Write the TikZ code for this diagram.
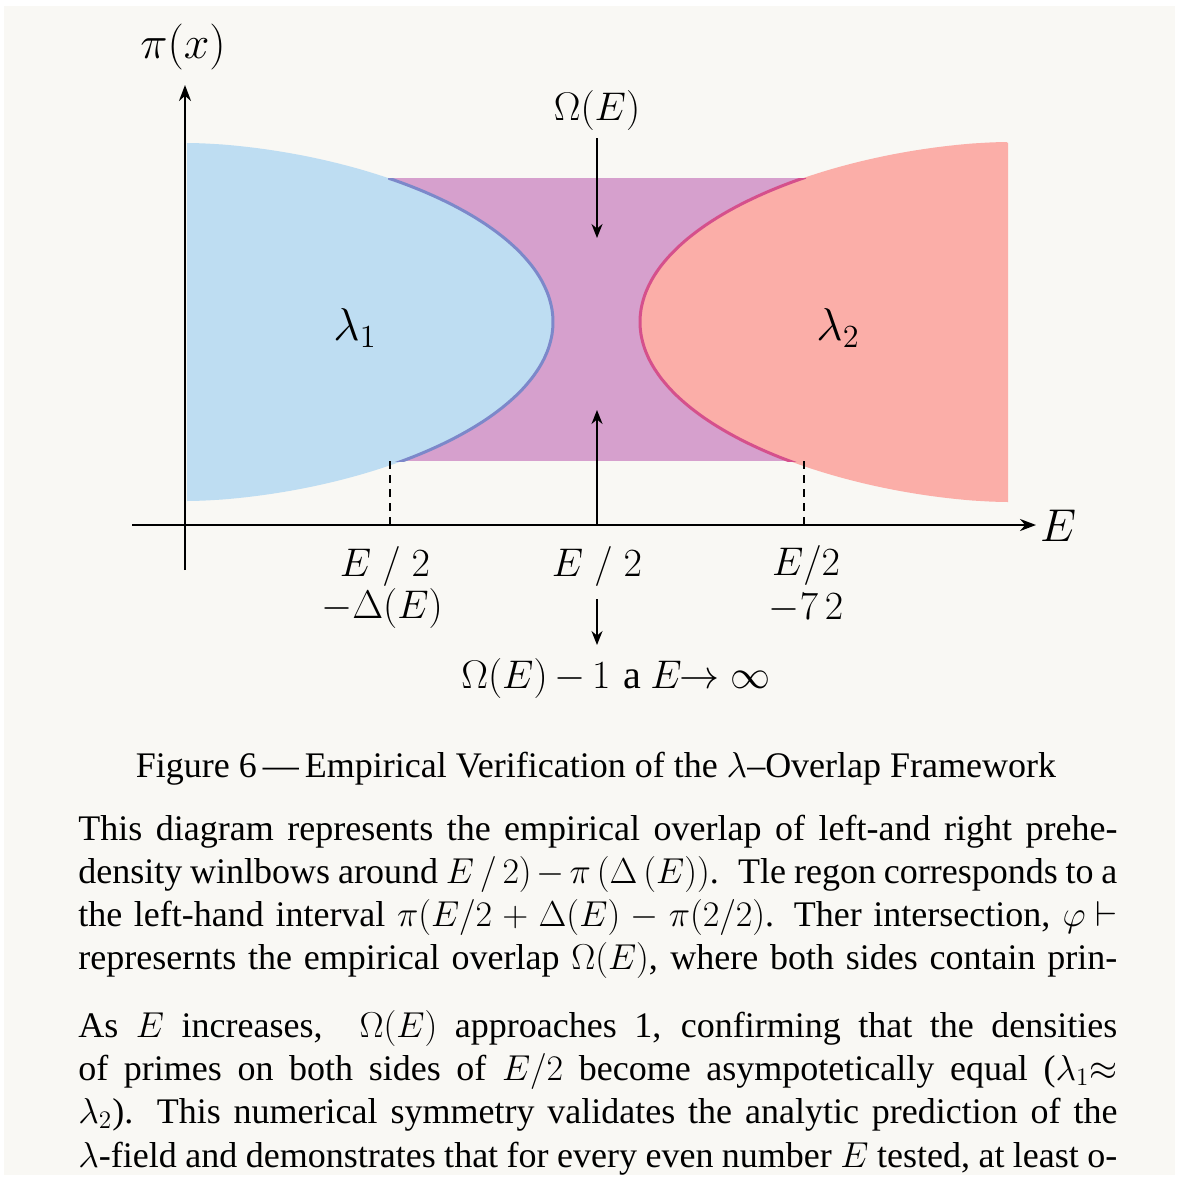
\documentclass[tikz,border=0pt]{standalone}
\usepackage{fix-cm}
\usepackage{fontspec}
\setmainfont{Liberation Serif}
\usetikzlibrary{arrows.meta}
\definecolor{bg}{HTML}{F9F8F4}
\definecolor{blueF}{HTML}{BEDDF2}
\definecolor{blueE}{HTML}{7C88CA}
\definecolor{purF}{HTML}{D6A0CD}
\definecolor{redF}{HTML}{FBAEA8}
\definecolor{redE}{HTML}{D5508C}
\begin{document}
\begin{tikzpicture}[x=0.5pt,y=-0.5pt,
  axisline/.style={line width=1.25pt,-{Stealth[length=8pt,width=6pt]}},
  pointer/.style={line width=0.9pt,-{Stealth[length=7pt,width=5.5pt]}},
  guide/.style={line width=0.8pt,dash pattern=on 4pt off 3pt},
  lbl/.style={inner sep=0pt,font=\fontsize{20}{24}\selectfont},
  lblb/.style={inner sep=0pt,anchor=base,font=\fontsize{20}{24}\selectfont},
  big/.style={inner sep=0pt,font=\fontsize{23}{27}\selectfont},
  bodyline/.style={inner sep=0pt,anchor=base west,font=\fontsize{18}{21}\selectfont},
  captionline/.style={inner sep=0pt,anchor=base,font=\fontsize{18}{21}\selectfont}]
\useasboundingbox (0,0) rectangle (1181,1178);
\fill[white] (0,0) rectangle (1181,1178);
\fill[bg] (4,6) rectangle (1175,1175);

% overlap rectangle
\fill[purF] (388,178) rectangle (806,461);
% left region
\fill[blueF] (187,143) -- plot[domain=89.5:-89.5,samples=160,variable=\t] ({187+366*abs(cos(\t))^1.15},{322-179*sin(\t)}) -- (187,501) -- cycle;
% right region
\fill[redF] (1008,143) -- plot[domain=89.5:-89.5,samples=160,variable=\t] ({1008-368*abs(cos(\t))^1.15},{322-180*sin(\t)}) -- (1008,502) -- cycle;
\begin{scope}
\clip (388,178) rectangle (806,461);
\draw[blueE,line width=1.5pt] plot[domain=89.5:-89.5,samples=160,variable=\t] ({187+366*abs(cos(\t))^1.15},{322-179*sin(\t)});
\draw[redE,line width=1.5pt] plot[domain=89.5:-89.5,samples=160,variable=\t] ({1008-368*abs(cos(\t))^1.15},{322-180*sin(\t)});
\end{scope}

% axes
\coordinate (yb) at (185,570);
\coordinate (yt) at (185,85);
\coordinate (xl) at (132,525);
\coordinate (xr) at (1036,525);
\draw[axisline] (yb) -- (yt);
\draw[axisline] (xl) -- (xr);
\node[big] (ylab) at (183,47) {$\pi(x)$};
\node[big] (xlab) at (1058,526) {$E$};

% dashed guides
\coordinate (g1t) at (390,461);
\coordinate (g1b) at (390,525);
\coordinate (g2t) at (804,461);
\coordinate (g2b) at (804,525);
\draw[guide] (g1t) -- (g1b);
\draw[guide] (g2t) -- (g2b);

% overlap arrows
\node[lbl] (omega) at (597,110) {$\Omega(E)$};
\coordinate (otip) at (597,238);
\draw[pointer] (omega.south) ++(0,8) -- (otip);
\coordinate (ubase) at (597,525);
\coordinate (utip) at (597,410);
\draw[pointer] (ubase) -- (utip);

% region labels
\node[big] (l1) at (355,328) {$\lambda_1$};
\node[big] (l2) at (838,328) {$\lambda_2$};

% axis labels
\node[lblb] (a1) at (385,576) {$E\;/\;2$};
\node[lblb] (a1b) at (382,618) {$-\Delta(E)$};
\node[lblb] (a2) at (597,576) {$E\;/\;2$};
\node[lblb] (a3) at (806,575) {$E/2$};
\node[lblb] (a3b) at (806,619) {$-7\,2$};
\coordinate (dtop) at (597,599);
\coordinate (dtip) at (597,645);
\draw[pointer] (dtop) -- (dtip);
\node[lbl] (lim) at (616,678) {$\Omega(E)\mkern3mu{-}\mkern3mu1\mkern6mu\mathrm{a}\mkern4mu E\mkern-1mu{\rightarrow}\mkern5mu\infty$};

% caption
\node[captionline] (cap) at (596,777) {Figure 6\,—\,Empirical Verification of the $\lambda$–Overlap Framework};

% body text
\node[bodyline] (t1) at (78,840) {\makebox[519.5pt][s]{This diagram represents the empirical overlap of left-and right prehe-}};
\node[bodyline] (t2) at (78,883) {\makebox[519.5pt][s]{density winlbows around $E\,/\,2)-\pi\,(\Delta\,(E))$. \ Tle regon corresponds to a}};
\node[bodyline] (t3) at (78,926) {\makebox[519.5pt][s]{the left-hand interval $\pi(E/2+\Delta(E)-\pi(2/2)$. Ther intersection, $\varphi\!\vdash$}};
\node[bodyline] (t4) at (78,969) {\makebox[519.5pt][s]{represernts the empirical overlap $\Omega(E)$, where both sides contain prin-}};
\node[bodyline] (t5) at (78,1037) {\makebox[519.5pt][s]{As $E$ increases, \ $\Omega(E)$ approaches 1, confirming that the densities}};
\node[bodyline] (t6) at (78,1080) {\makebox[519.5pt][s]{of primes on both sides of $E/2$ become asympotetically equal (${\lambda_1}{\approx}$}};
\node[bodyline] (t7) at (78,1123) {\makebox[519.5pt][s]{$\lambda_2$). This numerical symmetry validates the analytic prediction of the}};
\node[bodyline] (t8) at (78,1167) {\makebox[519.5pt][s]{$\lambda$-field and demonstrates that for every even number $E$ tested, at least o-}};
\end{tikzpicture}
\end{document}
